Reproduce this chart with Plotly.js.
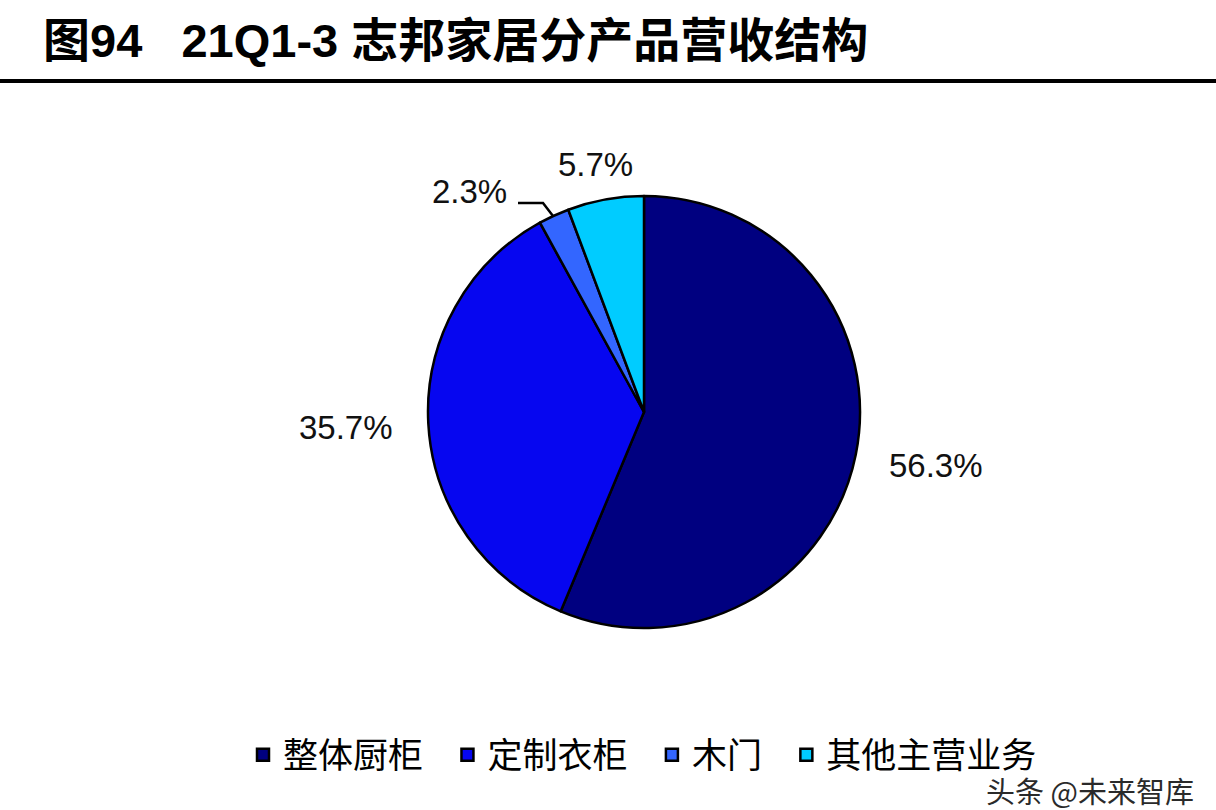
<!DOCTYPE html>
<html>
<head>
<meta charset="utf-8">
<script src="https://cdn.plot.ly/plotly-3.0.1.min.js"></script>
<style>
  html, body { margin: 0; padding: 0; background: #ffffff; }
  #chart { width: 1216px; height: 810px; }
</style>
</head>
<body>
<div id="chart"></div>
<script>
// ---- data ----
const categories = ['整体厨柜', '定制衣柜', '木门', '其他主营业务'];
const shares = [56.3, 35.7, 2.3, 5.7];
const sliceColors = ['#000080', '#0606F0', '#3366FF', '#00CCFF'];
const chartTitle = '图94\u00a0\u00a0\u00a021Q1-3 志邦家居分产品营收结构';
const watermark = '头条 @未来智库';

// label placement (paper coords) for each slice's percentage
const labelPos = [
  {x: 0.7697, y: 0.4259},
  {x: 0.2845, y: 0.4728},
  {x: 0.3857, y: 0.7630},
  {x: 0.4901, y: 0.7963}
];

const W = 1216, H = 810;
const px = v => v / W;
const py = v => 1 - v / H;

// extra spacing after each legend entry (visual gap only)
const legendPad = '\u00a0\u00a0';
const legendLabels = categories.map((c, i) => i < categories.length - 1 ? c + legendPad : c);

const trace = {
  type: 'pie',
  labels: legendLabels,
  values: shares,
  sort: false,
  direction: 'clockwise',
  rotation: 0,
  textinfo: 'none',
  hoverinfo: 'label+percent',
  marker: { colors: sliceColors, line: { color: '#000000', width: 2.5 } },
  domain: { x: [px(427), px(861)], y: [py(628), py(196)] },
  showlegend: true
};

const annotations = shares.map((v, i) => ({
  xref: 'paper', yref: 'paper',
  x: labelPos[i].x, y: labelPos[i].y,
  xanchor: 'center', yanchor: 'middle',
  text: v.toFixed(1) + '%',
  showarrow: false,
  font: { family: 'Liberation Sans, Arial, sans-serif', size: 33, color: '#111111' }
}));

annotations.push({
  xref: 'paper', yref: 'paper',
  x: px(1196), y: py(790),
  xanchor: 'right', yanchor: 'middle',
  text: watermark,
  showarrow: false,
  font: { family: 'Noto Sans CJK SC, sans-serif', size: 29, color: '#2a2a2a' }
});

const layout = {
  width: W, height: H,
  margin: { l: 0, r: 0, t: 0, b: 0 },
  paper_bgcolor: '#ffffff',
  plot_bgcolor: '#ffffff',
  title: {
    text: chartTitle,
    x: px(43), xref: 'paper', xanchor: 'left',
    y: 1 - 41 / H, yref: 'container', yanchor: 'middle',
    font: { family: 'Liberation Sans, Noto Sans CJK SC, sans-serif', size: 47, color: '#000000', weight: 'bold' }
  },
  showlegend: true,
  legend: {
    orientation: 'h',
    x: px(243), xanchor: 'left',
    y: py(755), yanchor: 'middle',
    font: { family: 'Liberation Sans, Noto Sans CJK SC, sans-serif', size: 35, color: '#000000' },
    bgcolor: 'rgba(0,0,0,0)',
    traceorder: 'normal'
  },
  shapes: [
    { type: 'line', xref: 'paper', yref: 'paper', x0: 0, x1: 1, y0: py(81), y1: py(81),
      line: { color: '#000000', width: 4 } },
    { type: 'path', xref: 'paper', yref: 'paper',
      path: 'M ' + px(518) + ' ' + py(203) + ' L ' + px(543) + ' ' + py(203) + ' L ' + px(553) + ' ' + py(216),
      line: { color: '#000000', width: 2.5 } }
  ],
  annotations: annotations
};

Plotly.newPlot('chart', [trace], layout, { displayModeBar: false, responsive: false });
</script>
</body>
</html>
